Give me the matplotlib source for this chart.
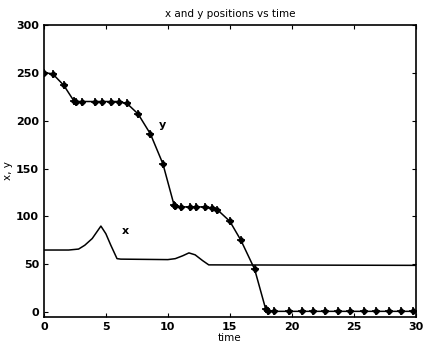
import matplotlib
matplotlib.use("Agg")
import matplotlib.pyplot as plt

# y position samples (time, value)
t_y = [0, 0.7, 1.6, 2.4, 2.6, 3.1, 4.1, 4.7, 5.4, 6.05, 6.7, 7.6, 8.6, 9.6,
       10.5, 10.6, 11.1, 11.8, 12.3, 13.0, 13.6, 14.0, 15.0, 15.9, 17.0,
       17.9, 18.1, 18.6, 19.8, 20.8, 21.7, 22.7, 23.7, 24.7, 25.8, 26.8,
       27.8, 28.8, 29.8]
y_pos = [250, 249, 237, 221, 220, 220, 220, 220, 220, 220, 218, 207, 186, 155,
         112, 111, 110, 110, 110, 110, 109, 107, 95, 75, 45,
         3, 1, 1, 1, 1, 1, 1, 1, 1, 1, 1,
         1, 1, 1]

# x position trace
t_x = [0, 2.0, 2.8, 3.3, 3.9, 4.6, 5.0, 5.4, 5.9, 6.2, 10.0, 10.6, 11.2,
       11.7, 12.2, 12.8, 13.3, 30]
x_pos = [65, 65, 66, 70, 77, 90, 82, 70, 56, 55.5, 55, 56, 59,
         62, 60, 54, 49.5, 49]

fig = plt.figure(figsize=(4.26, 3.5), dpi=100)
ax = fig.add_axes([0.103, 0.094, 0.873, 0.835])

ax.plot(t_x, x_pos, color="black", linewidth=1.1)
ax.plot(t_y, y_pos, color="black", linewidth=1.1)
ax.plot(t_y, y_pos, linestyle="none", marker="D", markersize=3, color="black")
ax.plot(t_y, y_pos, linestyle="none", marker="+", markersize=6,
        markeredgewidth=1.2, color="black")

ax.text(9.3, 192, "y", fontsize=8, fontweight="bold")
ax.text(6.3, 82, "x", fontsize=8, fontweight="bold")

ax.set_xlim(0, 30)
ax.set_ylim(-5, 300)
ax.set_xticks(range(0, 31, 5))
ax.set_yticks(range(0, 301, 50))
ax.tick_params(direction="in", top=True, right=True, labelsize=8, length=3)
for lab in ax.get_xticklabels() + ax.get_yticklabels():
    lab.set_fontweight("bold")
for s in ax.spines.values():
    s.set_linewidth(1.2)

ax.set_title("x and y positions vs time", fontsize=7.5)
ax.set_xlabel("time", fontsize=7.5, labelpad=1)
ax.set_ylabel("x, y", fontsize=7.5, labelpad=2)

fig.savefig("out.png", dpi=100)
